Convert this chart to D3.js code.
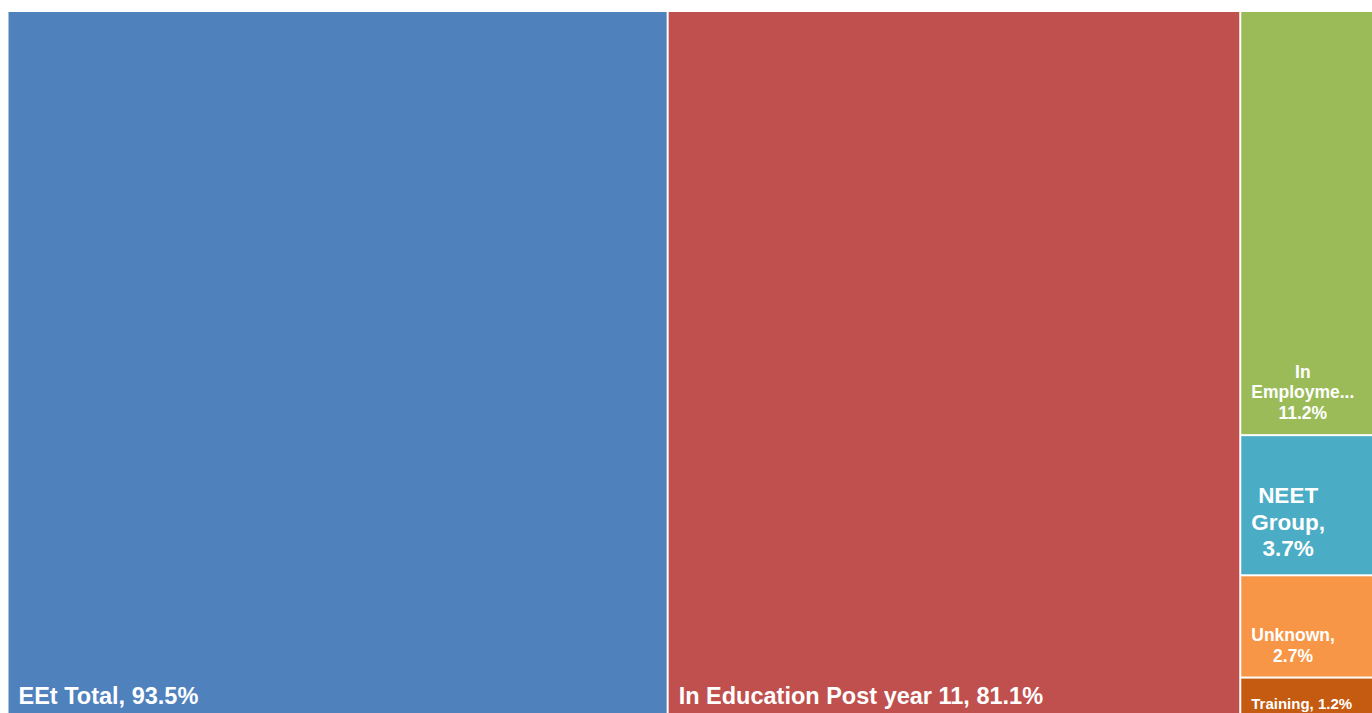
<!DOCTYPE html>
<html>
<head>
<meta charset="utf-8">
<script src="https://cdn.jsdelivr.net/npm/d3@7"></script>
<style>
  html, body { margin: 0; padding: 0; background: #ffffff; overflow: hidden; }
  svg { display: block; }
  text { font-family: "Liberation Sans", Arial, sans-serif; font-weight: bold; fill: #ffffff; }
</style>
</head>
<body>
<svg id="chart" width="1372" height="713"></svg>
<script>
// ---- data ----
const categories = ["EEt Total", "In Education Post year 11", "In Employment", "NEET Group", "Unknown", "Training"];
const values = [93.5, 81.1, 11.2, 3.7, 2.7, 1.2];
// categories stacked together in the narrow right-hand column
const stackedColumn = ["In Employment", "NEET Group", "Unknown", "Training"];

// ---- styles ----
const colors = ["#4F81BD", "#C0504D", "#9BBB59", "#4BACC6", "#F79646", "#C55A11"];
const fontSizes = { "EEt Total": 23.5, "In Education Post year 11": 23.5, "In Employment": 17.5, "NEET Group": 22.5, "Unknown": 17.5, "Training": 15 };

const margin = { left: 8.5, top: 12 };
const W = 1363.5, H = 710;

const items = categories.map((c, i) => ({ name: c, value: values[i], color: colors[i] }));
const rootData = {
  name: "root",
  children: [
    ...items.filter(d => !stackedColumn.includes(d.name)),
    { name: "stack", children: items.filter(d => stackedColumn.includes(d.name)) }
  ]
};

const root = d3.hierarchy(rootData).sum(d => d.value || 0);
d3.treemap()
  .size([W, H])
  .paddingInner(2)
  .tile((node, x0, y0, x1, y1) => {
    if (node.depth === 0) d3.treemapDice(node, x0, y0, x1, y1);
    else d3.treemapSlice(node, x0, y0, x1, y1);
  })(root);

const svg = d3.select("#chart");
const g = svg.append("g").attr("transform", `translate(${margin.left},${margin.top})`);

const leaves = root.leaves();
const cell = g.selectAll("g.cell").data(leaves).join("g").attr("class", "cell");

cell.append("rect")
  .attr("x", d => d.x0).attr("y", d => d.y0)
  .attr("width", d => d.x1 - d.x0).attr("height", d => d.y1 - d.y0)
  .attr("fill", d => d.data.color);

// labels: bottom-left block, lines centered within the block
const measurer = svg.append("text").attr("visibility", "hidden");
function measure(str, fs) {
  measurer.attr("font-size", fs).text(str);
  return measurer.node().getComputedTextLength();
}

cell.each(function(d) {
  const fs = fontSizes[d.data.name];
  const w = d.x1 - d.x0;
  const maxW = w - 26;
  const label = `${d.data.name}, ${d.data.value}%`;
  const words = label.split(" ");
  const lines = [];
  let cur = "";
  words.forEach(word => {
    const test = cur ? cur + " " + word : word;
    if (measure(test, fs) <= maxW || !cur) {
      cur = test;
    } else {
      lines.push(cur);
      cur = word;
    }
  });
  if (cur) lines.push(cur);
  // truncate lines that still overflow
  const fitted = lines.map(line => {
    if (measure(line, fs) <= maxW) return line;
    let s = line;
    while (s.length > 1 && measure(s + "...", fs) > maxW) s = s.slice(0, -1);
    s = s.replace(/[,\s]+$/, "");
    return s + "...";
  });
  const blockW = d3.max(fitted, l => measure(l, fs));
  const lh = fs * 1.18;
  const baseBottom = d.y1 - Math.min(fs * 0.86, 18);
  const cx = d.x0 + 10 + blockW / 2;
  const t = d3.select(this).append("text")
    .attr("font-size", fs)
    .attr("text-anchor", "middle");
  fitted.forEach((l, i) => {
    t.append("tspan")
      .attr("x", cx)
      .attr("y", baseBottom - (fitted.length - 1 - i) * lh)
      .text(l);
  });
});
measurer.remove();
</script>
</body>
</html>
